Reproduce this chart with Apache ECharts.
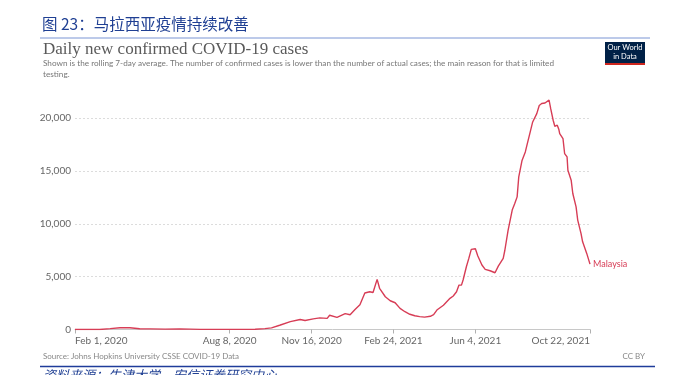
<!DOCTYPE html>
<html>
<head>
<meta charset="utf-8">
<script src="https://cdn.jsdelivr.net/npm/echarts@6/dist/echarts.min.js"></script>
<style>
html,body{margin:0;padding:0;background:#fff;}
#chart{width:690px;height:375px;}
</style>
</head>
<body>
<div id="chart"></div>
<script>
// ---- data ----
const dates = [
 '2020-02-01','2020-03-02','2020-03-15','2020-03-27','2020-04-08','2020-04-20','2020-05-03','2020-05-21',
 '2020-06-08','2020-07-03','2020-08-08','2020-09-08','2020-09-20','2020-09-28','2020-10-08','2020-10-21',
 '2020-11-02','2020-11-08','2020-11-18','2020-11-26','2020-12-05','2020-12-08','2020-12-17','2020-12-27',
 '2021-01-02','2021-01-08','2021-01-14','2021-01-20','2021-01-26','2021-01-30','2021-02-04','2021-02-07',
 '2021-02-14','2021-02-20','2021-02-26','2021-03-04','2021-03-10','2021-03-16','2021-03-22','2021-03-28',
 '2021-04-03','2021-04-10','2021-04-14','2021-04-18','2021-04-26','2021-05-04','2021-05-08','2021-05-12',
 '2021-05-15','2021-05-18','2021-05-20','2021-05-24','2021-05-27','2021-05-30','2021-06-04','2021-06-07',
 '2021-06-12','2021-06-16','2021-06-22','2021-06-28','2021-07-02','2021-07-08','2021-07-10','2021-07-14',
 '2021-07-19','2021-07-22','2021-07-25','2021-07-27','2021-07-31','2021-08-04','2021-08-06','2021-08-10',
 '2021-08-13','2021-08-18','2021-08-21','2021-08-24','2021-08-25','2021-08-28','2021-08-30','2021-09-02',
 '2021-09-04','2021-09-07','2021-09-09','2021-09-12','2021-09-14','2021-09-15','2021-09-19','2021-09-21',
 '2021-09-24','2021-09-25','2021-09-29','2021-10-01','2021-10-05','2021-10-07','2021-10-11','2021-10-13',
 '2021-10-18','2021-10-22'
];
const cases = [
 0,5,80,170,160,70,60,40,
 60,10,10,30,80,150,400,750,
 950,850,1000,1100,1050,1350,1150,1500,
 1400,1900,2350,3450,3570,3500,4740,3900,
 3100,2720,2530,2000,1680,1440,1300,1220,
 1170,1250,1400,1840,2300,2950,3170,3570,
 4200,4200,4680,5940,6730,7580,7640,6950,
 6100,5690,5560,5370,6000,6730,7500,9400,
 11300,11900,12550,14450,16000,16800,17440,18700,
 19640,20430,21200,21380,21200,21430,21380,21700,
 20900,19800,19230,19330,18920,18540,18070,16650,
 16330,15070,14130,12870,11600,10350,9090,8300,
 7200,6190
];
const seriesName = 'Malaysia';
const tickDates = ['2020-02-01','2020-08-08','2020-11-16','2021-02-24','2021-06-04','2021-10-22'];
const tickLabels = ['Feb 1, 2020','Aug 8, 2020','Nov 16, 2020','Feb 24, 2021','Jun 4, 2021','Oct 22, 2021'];
const yMax = 22000;
const yInterval = 5000;

// ---- helpers ----
function dayIndex(s){
  const p = s.split('-').map(Number);
  const t = Date.UTC(p[0], p[1]-1, p[2]);
  const p0 = tickDates[0].split('-').map(Number);
  const t0 = Date.UTC(p0[0], p0[1]-1, p0[2]);
  return Math.round((t - t0) / 86400000);
}
const tickDays = tickDates.map(dayIndex);
const seriesData = dates.map((d,i)=>[dayIndex(d), cases[i]]);

const LINE = '#d73d56';
const chart = echarts.init(document.getElementById('chart'), null, {renderer:'canvas'});
chart.setOption({
  animation:false,
  backgroundColor:'#fff',
  grid:{left:75, right:100, top:97, bottom:45.5, containLabel:false},
  xAxis:{
    type:'value',
    min:tickDays[0], max:tickDays[tickDays.length-1],
    axisLine:{show:true, lineStyle:{color:'#c8c8c8', width:1}},
    axisTick:{show:true, customValues:tickDays, length:4, lineStyle:{color:'#b0b0b0'}},
    axisLabel:{
      customValues:tickDays,
      color:'#666', fontFamily:'Lato', fontSize:10, margin:6,
      alignMinLabel:'left', alignMaxLabel:'right',
      formatter:function(v){ const i = tickDays.indexOf(Math.round(v)); return i>=0 ? tickLabels[i] : ''; }
    },
    splitLine:{show:false}
  },
  yAxis:{
    type:'value', min:0, max:yMax, interval:yInterval,
    axisLine:{show:false}, axisTick:{show:false},
    axisLabel:{
      color:'#666', fontFamily:'Lato', fontSize:10, margin:4, showMaxLabel:false,
      formatter:function(v){ return v % yInterval === 0 ? v.toLocaleString('en-US') : ''; }
    },
    splitLine:{show:true, showMaxLine:false, showMinLine:false, lineStyle:{color:'#dcdcdc', type:[2,2], width:1}}
  },
  series:[{
    type:'line', name:seriesName, data:seriesData, showSymbol:false, symbol:'none',
    lineStyle:{color:LINE, width:1.4},
    endLabel:{show:true, formatter:seriesName, color:LINE, fontFamily:'Lato', fontSize:9, distance:3}
  }],
  graphic:[
    {type:'text', left:42, top:16, style:{text:'图 23：马拉西亚疫情持续改善', fill:'#1f3f93', font:'15.5px "Noto Sans CJK SC"'}},
    {type:'line', shape:{x1:40, y1:38, x2:650, y2:38}, style:{stroke:'#7b95d4', lineWidth:1}},
    {type:'text', left:43, top:41, style:{text:'Daily new confirmed COVID-19 cases', fill:'#5a5a5a', font:'17px "Liberation Serif"'}},
    {type:'text', left:43, top:59, style:{text:'Shown is the rolling 7-day average. The number of confirmed cases is lower than the number of actual cases; the main reason for that is limited', fill:'#777', font:'8.2px Lato'}},
    {type:'text', left:43, top:70, style:{text:'testing.', fill:'#777', font:'8.2px Lato'}},
    {type:'rect', shape:{x:605, y:42, width:40, height:23}, style:{fill:'#002147'}},
    {type:'rect', shape:{x:605, y:63, width:40, height:2}, style:{fill:'#ce261e'}},
    {type:'text', x:625, y:48, style:{text:'Our World', fill:'#fff', font:'7.5px Lato', align:'center', verticalAlign:'middle'}},
    {type:'text', x:625, y:56.5, style:{text:'in Data', fill:'#fff', font:'7.5px Lato', align:'center', verticalAlign:'middle'}},
    {type:'text', left:43, top:352, style:{text:'Source: Johns Hopkins University CSSE COVID-19 Data', fill:'#888', font:'8px Lato'}},
    {type:'text', right:45, top:352, style:{text:'CC BY', fill:'#888', font:'8px Lato'}},
    {type:'line', shape:{x1:40, y1:366.5, x2:655, y2:366.5}, style:{stroke:'#1f3c9a', lineWidth:1.5}},
    {type:'text', left:43, top:369, style:{text:'资料来源：牛津大学，安信证券研究中心', fill:'#1f3f93', font:'italic 13px "Noto Sans CJK SC"'}}
  ]
});
</script>
</body>
</html>
